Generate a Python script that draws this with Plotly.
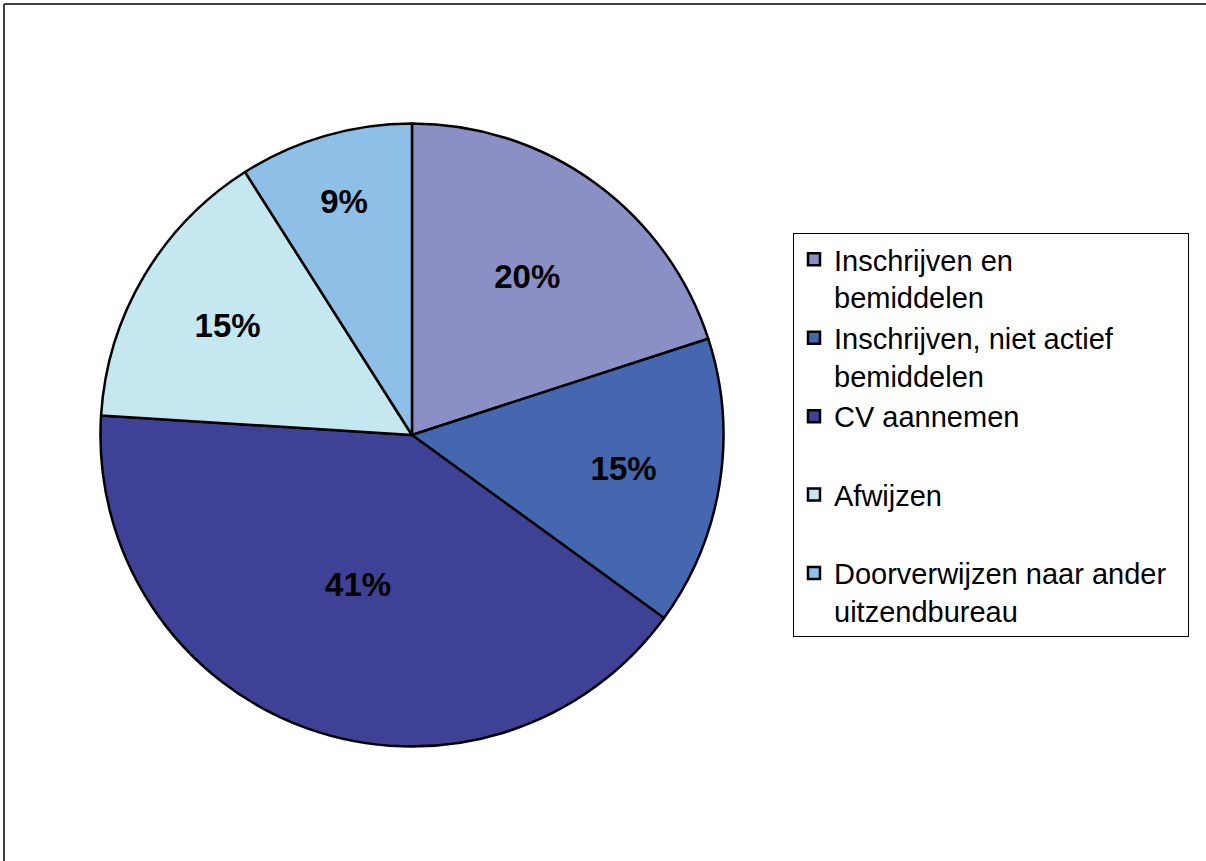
import plotly.graph_objects as go

labels = [
    "Inschrijven en<br>bemiddelen",
    "Inschrijven, niet actief<br>bemiddelen",
    "CV aannemen<br> ",
    "Afwijzen<br> ",
    "Doorverwijzen naar ander&nbsp;&nbsp;<br>uitzendbureau",
]
values = [20, 15, 41, 15, 9]
colors = ["#8A8FC6", "#4567AF", "#3E4195", "#C5E8F0", "#8EBFE6"]

W, H = 1206, 861

fig = go.Figure(
    go.Pie(
        labels=labels,
        values=values,
        sort=False,
        direction="clockwise",
        rotation=0,
        marker=dict(colors=colors, line=dict(color="black", width=2.5)),
        texttemplate="%{percent:.0%}",
        textposition="inside",
        insidetextorientation="horizontal",
        textfont=dict(family="Liberation Sans, Arial, sans-serif", size=33, color="black", weight="bold"),
        domain=dict(x=[0.0833, 0.5999], y=[0.133, 0.8566]),
        hoverinfo="label+percent",
    )
)

fig.update_layout(
    width=W,
    height=H,
    margin=dict(l=0, r=0, t=0, b=0),
    paper_bgcolor="white",
    plot_bgcolor="white",
    font=dict(family="Liberation Sans, Arial, sans-serif", color="black"),
    legend=dict(
        x=793 / W,
        y=1 - 233 / H,
        xanchor="left",
        yanchor="top",
        bgcolor="white",
        bordercolor="black",
        borderwidth=1,
        font=dict(size=29, color="black"),
        valign="top",
        traceorder="normal",
    ),
    shapes=[
        dict(type="line", xref="paper", yref="paper", x0=4 / W, x1=1, y0=1 - 4 / H, y1=1 - 4 / H,
             line=dict(color="#404040", width=2)),
        dict(type="line", xref="paper", yref="paper", x0=4 / W, x1=4 / W, y0=0, y1=1 - 4 / H,
             line=dict(color="#404040", width=2)),
    ],
)

fig.write_html("out.html", config={"displayModeBar": False},
               post_script="document.body.style.margin='0';")
